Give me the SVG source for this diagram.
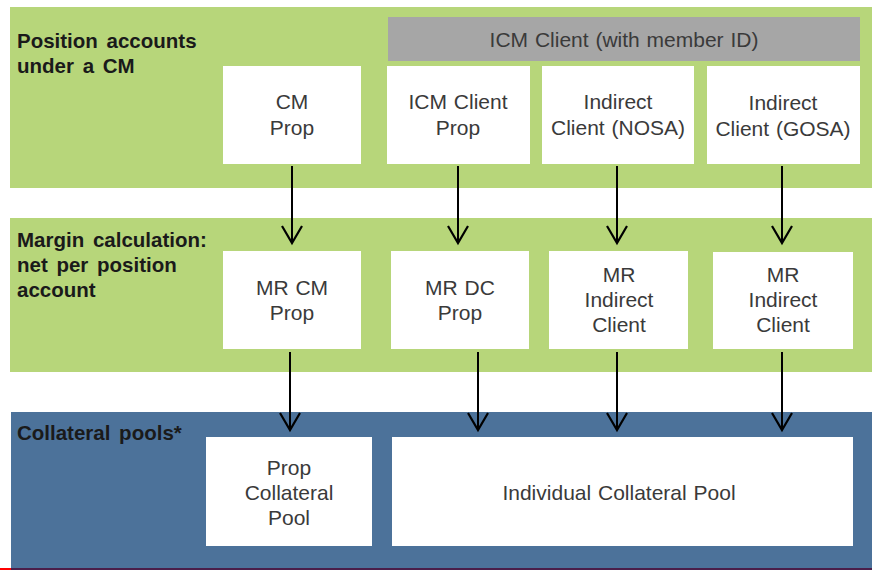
<svg xmlns="http://www.w3.org/2000/svg" width="872" height="570" viewBox="0 0 872 570">
  <style>
    .band-g { fill: #b7d67a; }
    .band-b { fill: #4c729a; }
    .box { fill: #ffffff; }
    .hdr { fill: #a6a6a6; }
    .lbl { font-family: "Liberation Sans", Arial, sans-serif; font-size: 20.5px; font-weight: bold; fill: #1a1a1a; word-spacing: 3px; }
    .txt { font-family: "Liberation Sans", Arial, sans-serif; font-size: 21px; fill: #3a3a3a; text-anchor: middle; word-spacing: 1px; }
    .conn line { stroke: #000000; stroke-width: 2; marker-end: url(#arr); }
  </style>
  <defs>
    <marker id="arr" markerUnits="userSpaceOnUse" markerWidth="40" markerHeight="40" refX="0" refY="0" orient="auto" viewBox="-20 -20 40 40" overflow="visible">
      <path d="M -17 -10 L 0 0 L -17 10" fill="none" stroke="#000000" stroke-width="2.2"/>
    </marker>
  </defs>
  <rect width="872" height="570" fill="#ffffff"/>

  <g id="band-positions">
    <rect class="band-g" x="10" y="7" width="862" height="181"/>
    <text class="lbl" x="17" y="48">Position accounts</text>
    <text class="lbl" x="17" y="73">under a CM</text>
  </g>
  <g id="band-margin">
    <rect class="band-g" x="10" y="218" width="862" height="154"/>
    <text class="lbl" x="17" y="247">Margin calculation:</text>
    <text class="lbl" x="17" y="272">net per position</text>
    <text class="lbl" x="17" y="297">account</text>
  </g>
  <g id="band-collateral">
    <rect class="band-b" x="11" y="412" width="861" height="156"/>
    <text class="lbl" x="17" y="440">Collateral pools*</text>
  </g>
  <rect x="11" y="568" width="861" height="2" fill="#4a1e4a"/>
  <rect x="0" y="568" width="11" height="2" fill="#ff0000"/>

  <g id="icm-client-header">
    <rect class="hdr" x="388" y="17" width="472" height="44"/>
    <text class="txt" x="624" y="47">ICM Client (with member ID)</text>
  </g>

  <g id="cm-prop">
    <rect class="box" x="223" y="66" width="138" height="98"/>
    <text class="txt" x="292" y="109">CM</text>
    <text class="txt" x="292" y="135">Prop</text>
  </g>
  <g id="icm-client-prop">
    <rect class="box" x="387" y="66" width="143" height="98"/>
    <text class="txt" x="458" y="109">ICM Client</text>
    <text class="txt" x="458" y="135">Prop</text>
  </g>
  <g id="indirect-nosa">
    <rect class="box" x="542" y="66" width="152" height="98"/>
    <text class="txt" x="618" y="109">Indirect</text>
    <text class="txt" x="618" y="135">Client (NOSA)</text>
  </g>
  <g id="indirect-gosa">
    <rect class="box" x="707" y="66" width="153" height="98"/>
    <text class="txt" x="783" y="110">Indirect</text>
    <text class="txt" x="783" y="136">Client (GOSA)</text>
  </g>

  <g id="mr-cm-prop">
    <rect class="box" x="223" y="251" width="138" height="98"/>
    <text class="txt" x="292" y="295">MR CM</text>
    <text class="txt" x="292" y="320">Prop</text>
  </g>
  <g id="mr-dc-prop">
    <rect class="box" x="391" y="251" width="138" height="98"/>
    <text class="txt" x="460" y="295">MR DC</text>
    <text class="txt" x="460" y="320">Prop</text>
  </g>
  <g id="mr-indirect-1">
    <rect class="box" x="549" y="251" width="139" height="98"/>
    <text class="txt" x="619" y="282">MR</text>
    <text class="txt" x="619" y="307">Indirect</text>
    <text class="txt" x="619" y="332">Client</text>
  </g>
  <g id="mr-indirect-2">
    <rect class="box" x="713" y="252" width="140" height="97"/>
    <text class="txt" x="783" y="282">MR</text>
    <text class="txt" x="783" y="307">Indirect</text>
    <text class="txt" x="783" y="332">Client</text>
  </g>

  <g id="prop-collateral-pool">
    <rect class="box" x="206" y="437" width="166" height="109"/>
    <text class="txt" x="289" y="475">Prop</text>
    <text class="txt" x="289" y="500">Collateral</text>
    <text class="txt" x="289" y="525">Pool</text>
  </g>
  <g id="individual-collateral-pool">
    <rect class="box" x="392" y="437" width="461" height="109"/>
    <text class="txt" x="619" y="500">Individual Collateral Pool</text>
  </g>

  <g id="connectors" class="conn">
    <line x1="292" y1="166" x2="292" y2="243"/>
    <line x1="458" y1="166" x2="458" y2="243"/>
    <line x1="617" y1="166" x2="617" y2="243"/>
    <line x1="782" y1="166" x2="782" y2="243"/>
    <line x1="290" y1="352" x2="290" y2="430"/>
    <line x1="478" y1="352" x2="478" y2="430"/>
    <line x1="617" y1="352" x2="617" y2="430"/>
    <line x1="782" y1="352" x2="782" y2="430"/>
  </g>
</svg>
